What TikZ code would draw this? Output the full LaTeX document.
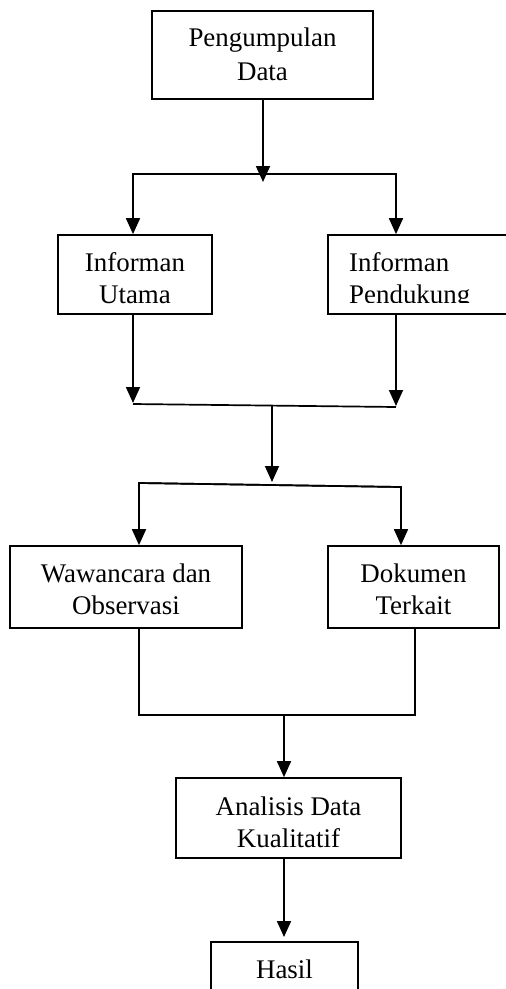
\documentclass[tikz,border=0pt]{standalone}
\usepackage{fontspec}
\setmainfont{Liberation Serif}
\usetikzlibrary{arrows.meta}
\begin{document}
\begin{tikzpicture}[x=1pt,y=-1pt,
  box/.style={draw, line width=1.7pt, inner sep=0pt, align=center,
    font=\fontsize{26.9}{32}\selectfont},
  conn/.style={line width=1.7pt},
  arr/.style={conn, -{Triangle[length=16pt,width=14pt]}}]
\path[use as bounding box] (0,0) rectangle (506,989);
\clip (0,0) rectangle (506,989);
% boxes
\node[box, minimum width=221pt, minimum height=88pt, text height=52pt, text depth=2pt,
  font=\fontsize{26.9}{34}\selectfont] (pd) at (262.5,55) {Pengumpulan\\Data};
\node[box, minimum width=154pt, minimum height=79pt, text height=57pt, text depth=0pt] (iu) at (135,274.5) {Informan\\Utama};
\node[box, minimum width=212pt, minimum height=79pt] (ip) at (434,274.5) {};
\begin{scope}
  \clip (330,237) rectangle (506,302);
  \node[font=\fontsize{26.9}{32}\selectfont, align=left, inner sep=0pt, anchor=base west] (ipt) at (349,303) {Informan\\Pendukung};
\end{scope}
\node[box, minimum width=232pt, minimum height=82pt, text height=54pt, text depth=0pt] (ww) at (126,587) {Wawancara dan\\Observasi};
\node[box, minimum width=171pt, minimum height=82pt, text height=54pt, text depth=0pt] (dk) at (413.5,587) {Dokumen\\Terkait};
\node[box, minimum width=225pt, minimum height=80pt, text height=58pt, text depth=0pt] (an) at (288.5,818) {Analisis Data\\Kualitatif};
\node[box, minimum width=147pt, minimum height=80pt, text height=18pt, text depth=26pt] (hs) at (284.5,982) {Hasil};
% level 1
\coordinate (a1) at (263,182);
\coordinate (h1l) at (133,174);
\coordinate (h1r) at (396,174);
\draw[arr] (pd.south -| a1) -- (a1);
\draw[arr] (h1r) -- (h1l) -- (h1l |- iu.north);
\draw[arr] (h1l) -- (h1r) -- (h1r |- ip.north);
% level 2
\coordinate (a2l) at (133,403);
\coordinate (a2r) at (396,406);
\draw[arr] (iu.south -| a2l) -- (a2l);
\draw[arr] (ip.south -| a2r) -- (a2r);
\coordinate (h2l) at (133,404);
\coordinate (h2r) at (396,407);
\draw[conn] (h2l) -- (h2r);
\coordinate (m2) at (272,405.5);
\coordinate (a3) at (272,482);
\draw[arr] (m2) -- (a3);
% level 3
\coordinate (h3l) at (139,483);
\coordinate (h3r) at (401,487);
\draw[arr] (h3r) -- (h3l) -- (h3l |- ww.north);
\draw[arr] (h3l) -- (h3r) -- (h3r |- dk.north);
% bracket
\coordinate (h4l) at (139,715);
\coordinate (h4r) at (415,715);
\draw[conn] (h4l |- ww.south) -- (h4l) -- (h4r) -- (h4r |- dk.south);
\coordinate (m4) at (284,715);
\draw[arr] (m4) -- (m4 |- an.north);
\coordinate (a5) at (284,937);
\draw[arr] (an.south -| a5) -- (a5);
\end{tikzpicture}
\end{document}
